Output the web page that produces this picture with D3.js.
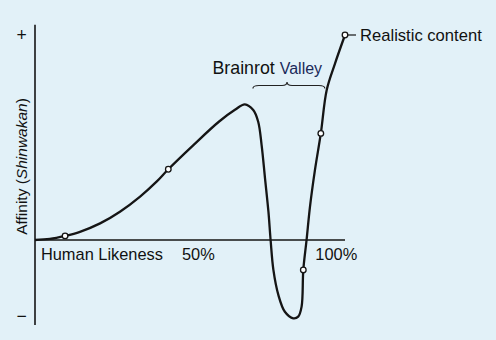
<!DOCTYPE html>
<html>
<head>
<meta charset="utf-8">
<script src="https://cdn.jsdelivr.net/npm/d3@7"></script>
<style>
  html, body { margin: 0; padding: 0; background: #e2f1f8; }
  svg { display: block; font-family: "Liberation Sans", Arial, sans-serif; }
</style>
</head>
<body>
<svg id="chart" width="496" height="340"></svg>
<script>
// Curve: human likeness (%) vs affinity (relative units)
const likeness = [0, 4.8, 9.7, 14.5, 21.0, 27.4, 33.9, 39.3, 43.0, 51.1, 59.4, 64.5, 67.7, 70.4, 72.0, 73.1, 74.2, 75.3, 76.0, 76.9, 78.5, 80.6, 83.3, 84.9, 86.0, 86.55, 87.6, 88.7, 90.3, 92.2, 94.1, 96.8, 100];
const affinity = [0, 0.005, 0.02, 0.04, 0.081, 0.138, 0.212, 0.286, 0.345, 0.463, 0.578, 0.635, 0.662, 0.634, 0.577, 0.463, 0.301, 0.138, 0, -0.146, -0.268, -0.35, -0.382, -0.374, -0.325, -0.146, 0, 0.162, 0.341, 0.52, 0.732, 0.862, 1.0];

// Marked points on the curve
const markerLikeness = [9.7, 43.0, 86.55, 92.2, 100];
const markerAffinity = [0.02, 0.345, -0.146, 0.52, 1.0];

// Axis labels
const xTickLabels = ["Human Likeness", "50%", "100%"];
const xTickValues = [21.6, 52.7, 97.2];
const yTickLabels = ["+", "\u2212"];
const yTickValues = [1.0, -0.37];

const svg = d3.select("#chart");
const x = d3.scaleLinear().domain([0, 100]).range([35, 345]);
const y = d3.scaleLinear().domain([0, 1]).range([240, 35]);

const ink = "#151515";

// Axes lines
svg.append("line")
  .attr("x1", x(0)).attr("x2", x(0))
  .attr("y1", y(1.05)).attr("y2", y(-0.415))
  .attr("stroke", ink).attr("stroke-width", 1.6);
svg.append("line")
  .attr("x1", x(0)).attr("x2", x(100))
  .attr("y1", y(0)).attr("y2", y(0))
  .attr("stroke", ink).attr("stroke-width", 1.4);

// X tick labels
svg.append("g").selectAll("text")
  .data(xTickLabels)
  .join("text")
  .attr("x", (d, i) => x(xTickValues[i]))
  .attr("y", 260)
  .attr("text-anchor", "middle")
  .attr("font-size", 16.4)
  .attr("fill", "#111")
  .text(d => d);

// Y tick labels
svg.append("g").selectAll("text")
  .data(yTickLabels)
  .join("text")
  .attr("x", 21.5)
  .attr("y", (d, i) => y(yTickValues[i]))
  .attr("dominant-baseline", "central")
  .attr("text-anchor", "middle")
  .attr("font-size", 17.5)
  .attr("fill", "#111")
  .text(d => d);

// Y axis title
const yt = svg.append("text")
  .attr("transform", "translate(27,166.5) rotate(-90)")
  .attr("text-anchor", "middle")
  .attr("font-size", 15.5)
  .attr("fill", "#111");
yt.append("tspan").text("Affinity (");
yt.append("tspan").attr("font-style", "italic").text("Shinwakan");
yt.append("tspan").text(")");

// Curve
const pts = likeness.map((v, i) => [v, affinity[i]]);
const line = d3.line()
  .x(d => x(d[0]))
  .y(d => y(d[1]))
  .curve(d3.curveCatmullRom.alpha(0.5));
svg.append("path")
  .datum(pts)
  .attr("d", line)
  .attr("fill", "none")
  .attr("stroke", ink)
  .attr("stroke-width", 2.3)
  .attr("stroke-linejoin", "round");

// Leader line + label for realistic content
const lastX = x(markerLikeness[markerLikeness.length - 1]);
const lastY = y(markerAffinity[markerAffinity.length - 1]);
svg.append("line")
  .attr("x1", lastX).attr("x2", lastX + 11)
  .attr("y1", lastY).attr("y2", lastY)
  .attr("stroke", ink).attr("stroke-width", 1.2);
svg.append("text")
  .attr("x", lastX + 15)
  .attr("y", lastY + 0.5)
  .attr("dominant-baseline", "central")
  .attr("font-size", 16.6)
  .attr("fill", "#111")
  .text("Realistic content");

// Markers
svg.append("g").selectAll("circle")
  .data(markerLikeness)
  .join("circle")
  .attr("cx", d => x(d))
  .attr("cy", (d, i) => y(markerAffinity[i]))
  .attr("r", 2.8)
  .attr("fill", "#fff")
  .attr("stroke", ink)
  .attr("stroke-width", 1.3);

// Brace for valley
const bx0 = x(70.3), bx1 = x(93.5), bm = x(81.3), by = 85.5;
const bp = d3.path();
bp.moveTo(bx0, by + 3);
bp.quadraticCurveTo(bx0, by, bx0 + 6, by);
bp.lineTo(bm - 5, by);
bp.quadraticCurveTo(bm, by, bm, by - 3.5);
bp.quadraticCurveTo(bm, by, bm + 5, by);
bp.lineTo(bx1 - 6, by);
bp.quadraticCurveTo(bx1, by, bx1, by + 3);
svg.append("path")
  .attr("d", bp.toString())
  .attr("fill", "none")
  .attr("stroke", "#222")
  .attr("stroke-width", 1.2);

const vt = svg.append("text")
  .attr("x", 212.5)
  .attr("y", 73.5)
  .attr("fill", "#111");
vt.append("tspan").attr("font-size", 17.8).text("Brainrot ");
vt.append("tspan").attr("font-size", 16).attr("fill", "#1a2a5a").text("Valley");
</script>
</body>
</html>
